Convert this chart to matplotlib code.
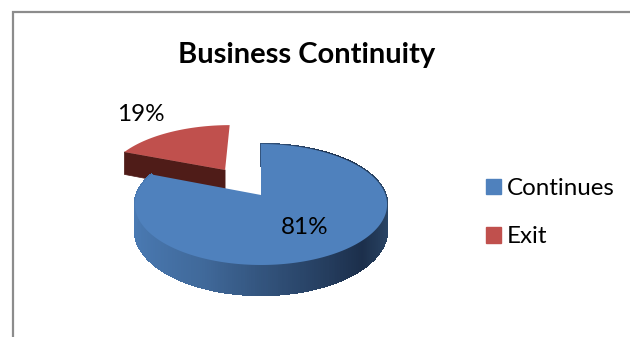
import matplotlib
matplotlib.use('Agg')
import matplotlib.pyplot as plt
import numpy as np
from matplotlib.colors import LinearSegmentedColormap
from matplotlib.patches import Patch

title = 'Business Continuity'
labels = ['Continues', 'Exit']
shares = [81, 19]
share_text = ['81%', '19%']

blue = '#4f81bd'
red = '#c0504d'
red_side = '#4f1c18'
blue_side = LinearSegmentedColormap.from_list(
    'blue_side',
    [(0.0, '#4a7ab3'), (0.3, '#40699a'), (0.6, '#2d4a70'), (0.86, '#1c2f4b'), (1.0, '#2b4768')],
)

plt.rcParams['font.family'] = ['Lato', 'DejaVu Sans']

# pie geometry in pixels, with a little perspective
cx, cy = 261, 195
rx, ry = 124.5, 59
depth = 25.3
persp = 0.157
explode = 0.55


def project(u, v, drop=0.0):
    w = 1 + persp * v
    return cx + rx * u / w, cy + (drop - ry * v) / w


def rim(start, stop, offset=(0.0, 0.0), n=200):
    a = np.radians(np.linspace(start, stop, n))
    return np.sin(a) + offset[0], np.cos(a) + offset[1]


fig = plt.figure(figsize=(6.3, 3.37), dpi=100)
ax = fig.add_axes([0, 0, 1, 1])
ax.set_xlim(0, 630)
ax.set_ylim(337, 0)
ax.axis('off')

# chart frame, open on the right
ax.plot([13, 13, 630], [337, 11.5, 11.5], color='#8c8c8c', lw=1.6, solid_joinstyle='miter')

blue_sweep = 360 * shares[0] / sum(shares)

# exit slice is pulled out along its middle angle
mid = np.radians((blue_sweep + 360) / 2)
off = (explode * np.sin(mid), explode * np.cos(mid))
tip_u, tip_v = off
edge_u, edge_v = np.sin(np.radians(blue_sweep)) + off[0], np.cos(np.radians(blue_sweep)) + off[1]

x0, y0 = project(tip_u, tip_v)
x1, y1 = project(edge_u, edge_v)
x2, y2 = project(edge_u, edge_v, depth)
x3, y3 = project(tip_u, tip_v, depth)
ax.fill([x0, x1, x2, x3], [y0, y1, y2, y3], color=red_side, lw=0.5, zorder=2)

u, v = rim(blue_sweep, 360, off)
x, y = project(u, v)
ax.fill(np.r_[x0, x], np.r_[y0, y], color=red, lw=0, zorder=3)

# side wall of the big slice, shaded strip by strip
u, v = rim(0, blue_sweep, n=360)
xt, yt = project(u, v)
xb, yb = project(u, v, depth)
for i in range(len(u) - 1):
    c = blue_side((u[i] + 1) / 2)
    ax.fill([xt[i], xt[i + 1], xb[i + 1], xb[i]], [yt[i], yt[i + 1], yb[i + 1], yb[i]],
            color=c, lw=1.0, zorder=4, antialiased=False)

xa, ya = project(0, 0)
ax.fill(np.r_[xa, xt], np.r_[ya, yt], color=blue, lw=0, zorder=5)

ax.text(305, 228, share_text[0], ha='center', va='center', fontsize=17.5, color='black', zorder=6)
ax.text(141, 114.5, share_text[1], ha='center', va='center', fontsize=17.5, color='black', zorder=6)
ax.text(306.5, 55.5, title, ha='center', va='center', fontsize=21, fontweight='bold', color='black')

handles = [Patch(color=blue, label=labels[0]), Patch(color=red, label=labels[1])]
ax.legend(handles=handles, loc='upper left', bbox_to_anchor=(486, 178), bbox_transform=ax.transData,
          frameon=False, fontsize=17.4, handlelength=0.62, handleheight=0.62, handletextpad=0.25,
          labelspacing=1.13, borderpad=0, borderaxespad=0)

fig.savefig('out.png', dpi=100)
